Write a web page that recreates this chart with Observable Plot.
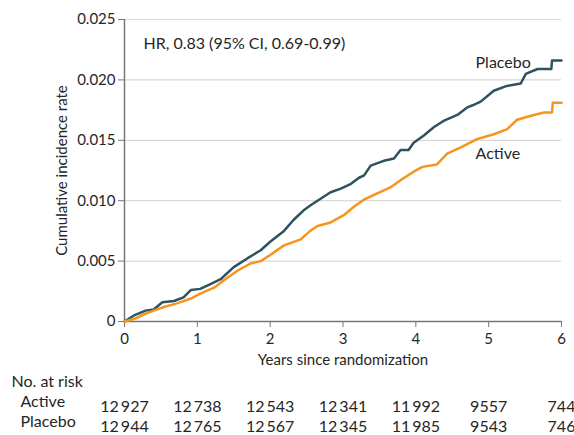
<!DOCTYPE html>
<html>
<head>
<meta charset="utf-8">
<script src="https://cdn.jsdelivr.net/npm/d3@7"></script>
<script src="https://cdn.jsdelivr.net/npm/@observablehq/plot@0.6"></script>
<style>
  html, body { margin: 0; padding: 0; background: #fff; }
  #chart svg { font-family: Lato, "Open Sans", sans-serif; }
</style>
</head>
<body>
<div id="chart"></div>
<script>
const placeboT = [0,0.13,0.29,0.40,0.52,0.68,0.81,0.91,1.04,1.18,1.32,1.50,1.68,1.87,2.00,2.19,2.32,2.46,2.55,2.65,2.83,2.97,3.11,3.22,3.29,3.38,3.56,3.70,3.79,3.90,3.97,4.11,4.25,4.38,4.57,4.70,4.78,4.89,5.07,5.25,5.44,5.51,5.67,5.86,5.87,6.00];
const placeboV = [0,0.0005,0.0009,0.0010,0.0016,0.0017,0.0020,0.0026,0.0027,0.0031,0.0035,0.0045,0.0052,0.0059,0.0066,0.0075,0.0084,0.0092,0.0096,0.0100,0.0107,0.0110,0.0114,0.0119,0.0121,0.0129,0.0133,0.0135,0.0142,0.0142,0.0148,0.0154,0.0161,0.0166,0.0171,0.0177,0.0179,0.0182,0.0191,0.0195,0.0197,0.0205,0.0209,0.0209,0.0216,0.0216];
const activeT = [0,0.13,0.27,0.40,0.54,0.72,0.91,1.04,1.23,1.36,1.55,1.73,1.87,2.00,2.19,2.42,2.55,2.65,2.83,3.01,3.15,3.29,3.47,3.65,3.79,3.97,4.09,4.29,4.43,4.61,4.84,5.07,5.25,5.39,5.62,5.76,5.87,5.88,6.00];
const activeV = [0,0.0002,0.0006,0.0009,0.0012,0.0015,0.0019,0.0023,0.0028,0.0034,0.0042,0.0048,0.0050,0.0055,0.0063,0.0068,0.0075,0.0079,0.0082,0.0088,0.0095,0.0101,0.0106,0.0111,0.0117,0.0124,0.0128,0.0130,0.0139,0.0144,0.0151,0.0155,0.0159,0.0167,0.0171,0.0173,0.0173,0.0181,0.0181];

const yTicks = [0, 0.005, 0.010, 0.015, 0.020, 0.025];
const xTicks = [0, 1, 2, 3, 4, 5, 6];
const riskActive = ["12\u2009927","12\u2009738","12\u2009543","12\u2009341","11\u2009992","9557","744"];
const riskPlacebo = ["12\u2009944","12\u2009765","12\u2009567","12\u2009345","11\u2009985","9543","746"];

const placebo = placeboT.map((t, i) => ({t, v: placeboV[i]}));
const active = activeT.map((t, i) => ({t, v: activeV[i]}));
const riskRows = xTicks.map((t, i) => ({t, a: riskActive[i], p: riskPlacebo[i]}));

const colPlacebo = "#2d5360";
const colActive = "#f7941d";
const textCol = "#262626";

const chart = Plot.plot({
  width: 574,
  height: 435,
  marginLeft: 124,
  marginRight: 13,
  marginTop: 19,
  marginBottom: 114,
  style: {fontSize: "16px", color: textCol, background: "#fff", overflow: "visible"},
  x: {domain: [0, 6]},
  y: {domain: [0, 0.025]},
  marks: [
    Plot.gridY(yTicks, {stroke: "#d9d9d9", strokeOpacity: 1, strokeWidth: 1.2}),
    Plot.axisY(yTicks, {
      tickSize: 6, tickPadding: 3, stroke: "#777", fontSize: 15, fill: textCol,
      tickFormat: d => d === 0 ? "0" : d.toFixed(3),
      label: "Cumulative incidence rate", labelAnchor: "center", labelOffset: 68, labelArrow: "none"
    }),
    Plot.axisX(xTicks, {
      tickSize: 6, tickPadding: 6, stroke: "#777", fontSize: 15, fill: textCol,
      label: "Years since randomization", labelAnchor: "center", labelOffset: 43, labelArrow: "none"
    }),
    Plot.ruleX([0], {stroke: "#777", strokeWidth: 1.5}),
    Plot.ruleY([0], {stroke: "#777", strokeWidth: 1.5}),
    Plot.line(placebo, {x: "t", y: "v", stroke: colPlacebo, strokeWidth: 2.5, curve: "linear"}),
    Plot.line(active, {x: "t", y: "v", stroke: colActive, strokeWidth: 2.5, curve: "linear"}),
    Plot.text(["HR, 0.83 (95% CI, 0.69-0.99)"], {x: 0.26, y: 0.0230, text: d => d, textAnchor: "start", fontSize: 16, fill: textCol}),
    Plot.text(["Placebo"], {x: 4.82, y: 0.0214, text: d => d, textAnchor: "start", fontSize: 16, fill: textCol}),
    Plot.text(["Active"], {x: 4.82, y: 0.0139, text: d => d, textAnchor: "start", fontSize: 16, fill: textCol}),
    Plot.text(["No. at risk"], {frameAnchor: "bottom-left", text: d => d, textAnchor: "start", dx: -113, dy: 65, fontSize: 16, fill: textCol}),
    Plot.text(["Active"], {frameAnchor: "bottom-left", text: d => d, textAnchor: "start", dx: -104, dy: 85, fontSize: 16, fill: textCol}),
    Plot.text(["Placebo"], {frameAnchor: "bottom-left", text: d => d, textAnchor: "start", dx: -104, dy: 105, fontSize: 16, fill: textCol}),
    Plot.text(riskRows, {x: "t", y: 0, text: "a", dy: 85, fontSize: 16, fill: textCol, clip: false}),
    Plot.text(riskRows, {x: "t", y: 0, text: "p", dy: 105, fontSize: 16, fill: textCol, clip: false})
  ]
});
document.getElementById("chart").appendChild(chart);
</script>
</body>
</html>
